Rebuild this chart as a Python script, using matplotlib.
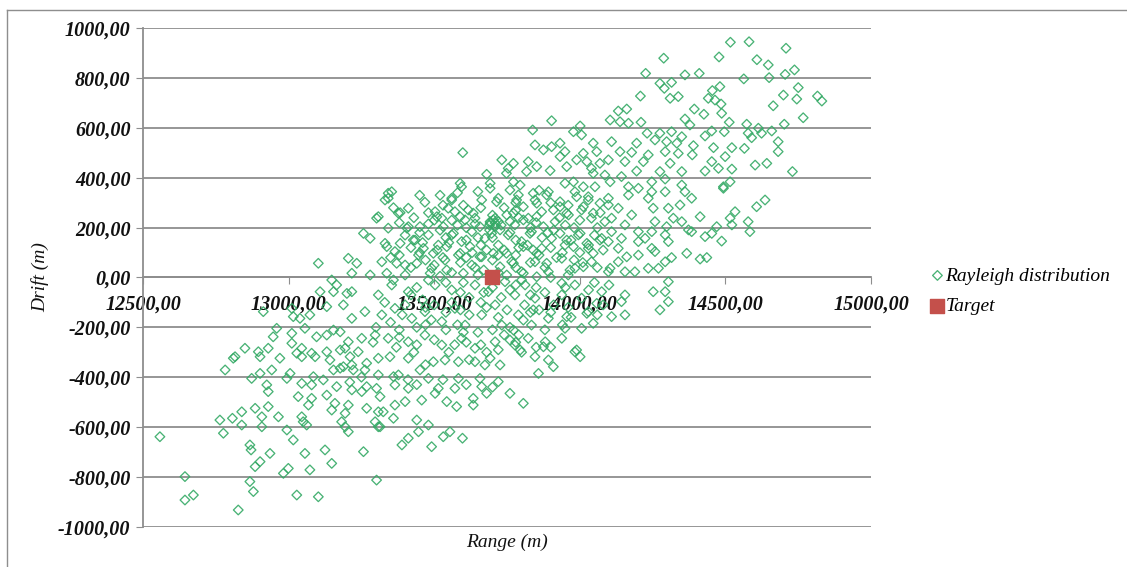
import matplotlib.pyplot as plt
from matplotlib.lines import Line2D

plt.rcParams['font.family'] = ['Liberation Serif', 'DejaVu Serif']

# Simulated impact points (Range, Drift in metres), grouped by area of the cloud
upper_range = [
    14517, 14581, 14708, 14288, 14478, 14608, 14647, 14226, 14361, 14410,
    14737, 14705, 14563, 14650, 14275, 14315, 14290, 14481, 14455, 14750,
    14208, 14310, 14338, 14441, 14464, 14699, 14745, 14816, 14831, 14664,
    14485, 14393, 14426, 14487, 14361, 14378, 14513, 14767, 14573, 14702,
    14613, 14659, 14210, 14167, 14132, 14161, 14104, 14138, 14231, 14275,
    14315, 14350, 14430, 14453, 14496, 14590, 14624, 14681, 14578, 14109,
    14195, 14258, 14298, 14333, 14390, 14459, 14522, 14565, 14681, 14138,
    14178, 14235, 14293, 14338, 14386, 14499, 14098, 14155, 14218, 14275,
    14310, 14350, 14430, 14453, 14476, 14522, 14602, 14642, 14730, 14195,
    14143, 14247, 14293, 14350, 14493, 14516, 14104, 14167]
upper_drift = [
    944, 946, 920, 880, 885, 874, 853, 819, 813, 819,
    833, 815, 797, 802, 779, 783, 759, 766, 750, 762,
    728, 719, 726, 719, 712, 732, 716, 728, 708, 689,
    696, 676, 655, 659, 636, 612, 623, 641, 615, 615,
    599, 588, 623, 619, 668, 676, 632, 625, 579, 579,
    585, 565, 568, 588, 585, 561, 579, 545, 579, 545,
    539, 552, 545, 539, 529, 521, 521, 518, 505, 505,
    502, 492, 505, 498, 492, 485, 472, 465, 465, 425,
    458, 425, 427, 465, 438, 435, 451, 458, 425, 427,
    405, 384, 395, 371, 364, 384, 384, 364]

mid_range = [
    13598, 13838, 13903, 13978, 14001, 14006, 13846, 13875, 13903, 13932,
    13949, 13932, 13732, 13772, 13754, 13817, 13852, 13898, 13955, 13989,
    14012, 14024, 14046, 14058, 14069, 14046, 13680, 13589, 13468, 13383,
    13342, 13354, 13331, 13560, 13503, 13548, 13663, 13714, 13692, 13748,
    13772, 13760, 13795, 13840, 13783, 13806, 13852, 13886, 13949, 13978,
    13989, 13932, 13955, 13909, 14012, 14052, 14029, 14012, 14046, 14069,
    13606, 13634, 13589, 13657, 13692, 13709, 13697, 13726, 13772, 13806,
    13852, 13875, 13829, 13806, 13852, 13886, 13932, 13955, 13978, 14001,
    14024, 14046, 14069, 14012, 13966, 13938, 13566, 13531, 13509,
    13451, 13406, 13428, 13383, 13337, 13463, 13497, 13543, 13589, 13623,
    13657, 13703, 13748, 13772, 13726, 13440, 13371, 13486, 13543, 13600,
    13806, 13852, 13337, 13823, 14040, 14086]
mid_drift = [
    501, 592, 629, 585, 608, 572, 532, 512, 525, 539,
    505, 485, 472, 458, 438, 425, 445, 429, 445, 472,
    498, 465, 539, 505, 458, 418, 414, 378, 302, 260,
    338, 344, 311, 311, 264, 278, 311, 304, 378, 418,
    384, 351, 371, 338, 311, 284, 298, 331, 378, 384,
    324, 284, 258, 271, 364, 364, 324, 284, 258, 298,
    231, 258, 244, 204, 224, 218, 177, 191, 258, 231,
    244, 204, 177, 124, 97, 57, 177, 150, 124, 177,
    137, 97, 150, 43, 30, -23, 177, 204, 244,
    204, 198, 150, 137, 124, 117, 97, 124, 97, 124,
    83, 97, 97, 57, 43, 57, 57, 17, 30, 17,
    17, 3, 17, 465, 438, 411]

right_range = [
    14636, 14607, 14533, 14516, 14578, 14584, 14522, 14493, 14413, 14470,
    14453, 14430, 14487, 14373, 14367, 14413, 14436, 14315, 14293, 14361,
    14384, 14344, 14304, 14321, 14298, 14293, 14304, 14252, 14235, 14247,
    14201, 14167, 14178, 14201, 14224, 14247, 14258, 14270, 14293, 14235,
    14304, 14252, 14293, 14304, 14275, 14155, 14143, 14155, 14109, 14132,
    14104, 14155, 14189, 14201, 14161, 14132, 14098, 14143, 14109, 14155,
    14109, 14098, 14132, 14201, 14258, 14247, 14350, 14384,
    14058, 14024, 14046, 13989, 13955, 13875, 13840, 13806, 13772, 13760, 13795]
right_drift = [
    311, 284, 264, 238, 224, 184, 211, 358, 244, 204,
    177, 164, 146, 191, 97, 74, 80, 80, 344, 344,
    318, 291, 278, 238, 204, 171, 144, 278, 318, 344,
    358, 331, 251, 184, 157, 117, 104, 37, 63, 37,
    -17, -57, -57, -97, -130, -70, -97, -150, -157, 63,
    37, 23, 23, 90, 83, 117, 144, 157, 184, 211,
    238, 291, 278, 144, 224, 184, 224, 184,
    -104, -144, -184, -291, -157, -278, -130, -171, -211, -251, -291]

center_range = [
    13342, 13594, 13560, 13692, 13720, 13789, 13846, 13892, 13932, 13983,
    14029, 14098, 13308, 13377, 13411, 13526, 13571, 13617, 13640, 13709,
    13749, 13777, 13823, 13869, 13915, 13961, 14006, 14040, 14086, 13411,
    13342, 13331, 13365, 13434, 13480, 13514, 13560, 13594, 13629, 13674,
    13692, 13703, 13720, 13754, 13800, 13834, 13869, 13903, 13949, 13995,
    14029, 14075, 13320, 13400, 13446, 13491, 13537, 13583, 13629, 13663,
    13749, 13766, 13800, 13846, 13892, 13938, 13983, 14040, 14098, 13308,
    13354, 13411, 13503, 13640, 13686, 13743, 13777, 13812, 13846, 13938,
    13983, 14006, 14075, 13320, 13365, 13423, 13468, 13526, 13571, 13606,
    13663, 13709, 13732, 13789, 13834, 13892, 13949, 14006, 14029, 13342,
    13411, 13468, 13526, 13594, 13640, 13709, 13777, 13823, 13881, 13938, 13983]
center_drift = [
    318, 364, 318, 358, 318, 331, 311, 344, 304, 344,
    311, 318, 244, 258, 278, 238, 264, 271, 238, 238,
    251, 211, 238, 264, 224, 251, 271, 238, 224, 204,
    198, 137, 104, 150, 171, 130, 171, 144, 184, 157,
    218, 231, 130, 171, 144, 184, 117, 157, 130, 171,
    117, 157, 63, 50, 90, 37, 70, 90, 50, 83,
    10, 63, 23, 63, 23, 77, 37, 63, 23, -70,
    -30, -57, -30, -30, -57, -17, -70, -30, -83, -70,
    -30, -83, -57, -150, -124, -164, -137, -177, -124, -191,
    -150, -110, -191, -150, -191, -164, -204, -204, -137, -244,
    -258, -231, -271, -244, -284, -258, -271, -244, -258, -244, -298]

core_range = [
    13360, 13430, 13480, 13520, 13560, 13610, 13650, 13690, 13730, 13760,
    13790, 13830, 13870, 13910, 13950, 14000, 13700, 13740, 13600, 13520,
    13380, 13420, 13470, 13510, 13550, 13590, 13630, 13660, 13700, 13740,
    13780, 13820, 13860, 13900, 13940, 13980, 14030, 13670,
    13360, 13400, 13440, 13480, 13520, 13560, 13600, 13650, 13700, 13760,
    13800, 13850, 13900, 13960, 14050, 13620, 13560, 13460,
    13350, 13390, 13440, 13490, 13540, 13580, 13620, 13680, 13720, 13760,
    13810, 13860, 13910, 13970, 13500, 13650,
    13370, 13430, 13500, 13550, 13610, 13680, 13740, 13800, 13850, 13470, 13620]
core_drift = [
    280, 240, 215, 190, 230, 200, 160, 190, 210, 180,
    240, 200, 160, 190, 210, 230, 250, 280, 290, 330,
    90, 120, 70, 110, 140, 60, 100, 130, 70, 110,
    90, 130, 90, 120, 100, 70, 130, 30,
    -10, 10, -40, -10, 5, -50, -20, 10, -40, -50,
    -10, -40, 0, 10, -20, -80, -100, -90,
    -180, -150, -200, -170, -140, -190, -150, -120, -160, -200,
    -110, -130, -110, -160, -110, -220,
    -280, -300, -250, -300, -260, -300, -230, -300, -280, -350, -330]

# overlapping points in the densest part of the cloud
dense_range = [
    13450, 13580, 13650, 13780, 13860,
    13480, 13530, 13660, 13780, 13900, 13960, 14070,
    13380, 13450, 13500, 13580, 13640, 13710, 13720, 13690, 13760, 13850,
    13930, 13980, 14060,
    13400, 13460, 13540, 13610, 13700, 13780, 13890, 13970, 14050,
    13350, 13450, 13530, 13610, 13680, 13720, 13790, 13840, 13920, 14000, 14080,
    13420, 13500, 13560, 13640, 13720, 13780, 13830, 13880, 14010, 14060,
    13420, 13540, 13590, 13670, 13730, 13780, 13830, 13880, 13950, 14030, 14100,
    13330, 13400, 13470, 13590, 13660, 13750, 13830, 13900, 13960, 14080,
    13300, 13380, 13470, 13540, 13600, 13700, 13790, 13880, 13940, 14060,
    13290, 13380, 13440, 13570, 13660, 13720, 13780, 13900,
    13410, 13440, 13530, 13610, 13700, 13250, 13210]
dense_drift = [
    330, 340, 345, 300, 350,
    260, 290, 280, 270, 300, 290, 260,
    220, 180, 230, 210, 215, 205, 225, 210, 225, 220,
    240, 200, 200,
    170, 140, 160, 150, 160, 150, 180, 150, 170,
    80, 100, 80, 80, 110, 90, 120, 110, 80, 100, 110,
    40, 50, 20, 40, 20, 40, 60, 40, 60, 40,
    -70, -20, -60, -60, -80, -30, -70, -60, -40, -50, -30,
    -100, -110, -120, -130, -100, -130, -140, -140, -120, -110,
    -200, -210, -190, -210, -220, -210, -230, -210, -190, -150,
    -260, -240, -270, -270, -270, -290, -260, -280,
    -410, -430, -410, -430, -440, -400, -420]

left_range = [
    13257, 13280, 13102, 13205, 13234, 13217, 13280, 13148, 13165, 13108,
    13154, 13200, 13217, 13011, 12913, 13039, 13073, 13131, 13188, 13217,
    13262, 12959, 13011, 13056, 13096, 13131, 13177, 13205, 13251, 13297,
    12850, 12896, 12930, 13045, 13079, 13131, 13194, 13239, 12816, 13302]
left_drift = [
    177, 157, 57, 77, 57, 17, 10, -10, -30, -57,
    -57, -64, -57, -124, -137, -164, -150, -117, -110, -164,
    -137, -204, -224, -204, -238, -231, -218, -258, -244, -231,
    -284, -298, -284, -284, -304, -298, -284, -298, -318, 238]

low_left_range = [
    12810, 12902, 12970, 13045, 13091, 12782, 12873, 12902, 12942, 12994,
    13005, 12925, 12930, 13045, 13079, 13033, 13079, 13068, 13119, 13131,
    13165, 13142, 13177, 13217, 13159, 13205, 13148, 13194, 13268, 13308,
    13251, 13302, 13308, 13262, 13217, 12764, 12807, 12839, 12885, 12930,
    12908, 12839, 12965, 12776, 12558, 12994, 13016, 13050, 13062, 13045,
    13182, 13194, 13205, 13297, 13308, 12867, 12871, 12936, 12902, 12885,
    13056, 13125, 13148, 13073, 12999, 12982, 13257, 13302, 12644, 12673,
    12644, 12867, 12879, 13028, 13102, 12827, 12908,
    13154, 13177, 13211, 13154, 13188, 13222, 13268, 13360, 13268, 13314,
    13085, 13028, 13011, 12947, 13016]
low_left_drift = [
    -324, -318, -324, -318, -318, -371, -405, -385, -371, -405,
    -385, -431, -458, -425, -431, -478, -485, -512, -411, -472,
    -438, -331, -364, -451, -505, -512, -532, -545, -525, -539,
    -458, -445, -391, -371, -351, -572, -565, -539, -525, -518,
    -559, -592, -559, -625, -639, -612, -652, -579, -592, -559,
    -579, -599, -619, -579, -599, -672, -692, -706, -739, -759,
    -706, -692, -746, -772, -766, -786, -699, -813, -799, -873,
    -893, -819, -859, -873, -880, -933, -599,
    -211, -291, -318, -371, -358, -371, -344, -398, -438, -478,
    -398, -304, -264, -238, -157]

low_mid_range = [
    13308, 13348, 13411, 13497, 13537, 13583, 13640, 13692, 13726, 13674,
    13846, 13892, 13909, 13858, 14001, 13377, 13451, 13365, 13411, 13480,
    13514, 13583, 13571, 13657, 13663, 13720, 13760, 13806, 13680, 13634,
    13634, 13577, 13543, 13503, 13457, 13400, 13365, 13325, 13360, 13314,
    13440, 13480, 13446, 13411, 13389, 13491, 13531, 13554, 13597]
low_mid_drift = [
    -324, -318, -324, -338, -331, -338, -338, -324, -351, -351,
    -318, -331, -358, -385, -318, -391, -371, -431, -445, -405,
    -445, -405, -445, -405, -438, -418, -465, -505, -465, -485,
    -512, -518, -498, -465, -492, -498, -512, -539, -565, -599,
    -572, -592, -619, -645, -672, -679, -639, -619, -645]

target_range = [13700]
target_drift = [0]

x_ticks = [12500, 13000, 13500, 14000, 14500, 15000]
y_ticks = [-1000, -800, -600, -400, -200, 0, 200, 400, 600, 800, 1000]

range_m = (upper_range + mid_range + right_range + center_range + core_range
           + dense_range + left_range + low_left_range + low_mid_range)
drift_m = (upper_drift + mid_drift + right_drift + center_drift + core_drift
           + dense_drift + left_drift + low_left_drift + low_mid_drift)


def comma_fmt(v):
    return f"{v:.2f}".replace('.', ',')


grey = '#8e8e8e'
fig = plt.figure(figsize=(11.27, 5.67), dpi=100)
ax = fig.add_axes([0.1269, 0.0711, 0.6460, 0.8790])

ax.scatter(range_m, drift_m, marker='D', s=24, facecolors='none',
           edgecolors='#35aa66', linewidths=0.95, alpha=0.9, zorder=3,
           label='Rayleigh distribution')
ax.scatter(target_range, target_drift, marker='s', s=90, color='#c4504b',
           zorder=4, label='Target')

ax.set_xlim(12500, 15000)
ax.set_ylim(-1000, 1000)
ax.set_xticks(x_ticks)
ax.set_yticks(y_ticks)
ax.set_xticklabels([comma_fmt(v) for v in x_ticks])
ax.set_yticklabels([comma_fmt(v) for v in y_ticks])

ax.yaxis.grid(True, color=grey, linewidth=1.3)
ax.set_axisbelow(True)
for side in ['top', 'right']:
    ax.spines[side].set_visible(False)
ax.spines['bottom'].set_position(('data', 0))
ax.spines['bottom'].set_color(grey)
ax.spines['left'].set_color(grey)
ax.spines['bottom'].set_linewidth(1.3)
ax.spines['left'].set_linewidth(1.3)

ax.tick_params(axis='x', direction='out', length=5, color=grey, pad=7)
ax.tick_params(axis='y', direction='out', length=5, color=grey, pad=4)
for lbl in ax.get_xticklabels() + ax.get_yticklabels():
    lbl.set_fontsize(14.5)
    lbl.set_fontstyle('italic')
    lbl.set_fontweight('bold')
    lbl.set_color('#111111')

ax.text(0.5, -0.032, 'Range (m)', transform=ax.transAxes, ha='center',
        va='center', fontsize=14, style='italic', color='#111111')
ax.text(-0.1415, 0.5, 'Drift (m)', transform=ax.transAxes, rotation=90,
        ha='center', va='center', fontsize=14, style='italic', color='#111111')

ax.legend(loc='center left', bbox_to_anchor=(0.818, 0.487),
          bbox_transform=fig.transFigure, frameon=False,
          prop={'style': 'italic', 'size': 14}, handlelength=0.6,
          handletextpad=0.1, labelspacing=0.65, borderpad=0)

# thin frame around the chart area
fig.add_artist(Line2D([6.5 / 1127, 6.5 / 1127], [0, 1 - 9.5 / 567],
                      transform=fig.transFigure, color=grey, linewidth=1))
fig.add_artist(Line2D([6.5 / 1127, 1], [1 - 9.5 / 567, 1 - 9.5 / 567],
                      transform=fig.transFigure, color=grey, linewidth=1))

fig.savefig('out.png', dpi=100)
